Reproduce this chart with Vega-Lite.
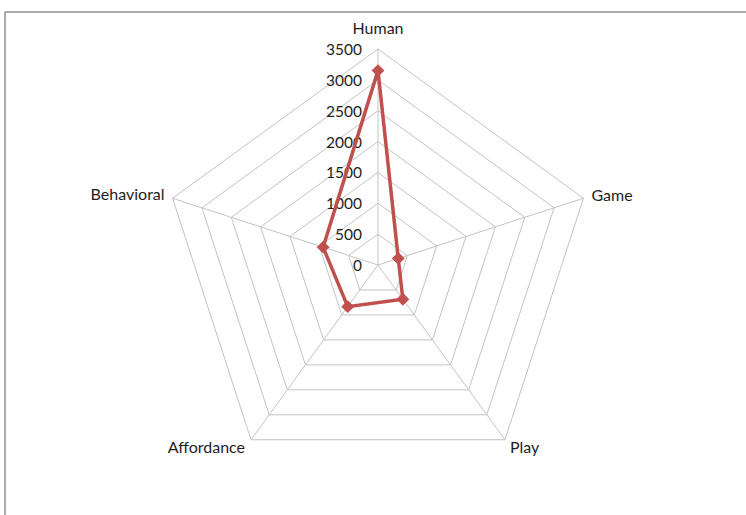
{
  "$schema": "https://vega.github.io/schema/vega-lite/v6.json",
  "width": 741,
  "height": 503,
  "autosize": "none",
  "padding": {"left": 5, "top": 12, "right": 0, "bottom": 0},
  "background": "white",
  "config": {
    "view": {"stroke": null},
    "text": {"font": "Lato", "fontSize": 15, "fill": "#1e1e1e", "baseline": "alphabetic"}
  },
  "datasets": {
    "scores": [
      {"category": "Human", "k": 0, "value": 3150},
      {"category": "Game", "k": 1, "value": 345},
      {"category": "Play", "k": 2, "value": 685},
      {"category": "Affordance", "k": 3, "value": 835},
      {"category": "Behavioral", "k": 4, "value": 935}
    ],
    "rings": [
      {"level": 500, "k": [0, 1, 2, 3, 4]},
      {"level": 1000, "k": [0, 1, 2, 3, 4]},
      {"level": 1500, "k": [0, 1, 2, 3, 4]},
      {"level": 2000, "k": [0, 1, 2, 3, 4]},
      {"level": 2500, "k": [0, 1, 2, 3, 4]},
      {"level": 3000, "k": [0, 1, 2, 3, 4]},
      {"level": 3500, "k": [0, 1, 2, 3, 4]}
    ],
    "ticks": [
      {"level": 0}, {"level": 500}, {"level": 1000}, {"level": 1500},
      {"level": 2000}, {"level": 2500}, {"level": 3000}, {"level": 3500}
    ],
    "border": [{"side": "top"}, {"side": "left"}]
  },
  "encoding": {
    "x": {"field": "x", "type": "quantitative", "axis": null, "scale": {"domain": [-6044, 5963], "nice": false, "zero": false}},
    "y": {"field": "y", "type": "quantitative", "axis": null, "scale": {"domain": [-4051, 4100], "nice": false, "zero": false}}
  },
  "layer": [
    {
      "data": {"name": "border"},
      "transform": [
        {"calculate": "-6044", "as": "x"},
        {"calculate": "datum.side === 'top' ? 5963 : -6044", "as": "x2"},
        {"calculate": "4100", "as": "y"},
        {"calculate": "datum.side === 'top' ? 4100 : -4051", "as": "y2"}
      ],
      "mark": {"type": "rule", "stroke": "#acacac", "strokeWidth": 2},
      "encoding": {
        "x2": {"field": "x2"},
        "y2": {"field": "y2"}
      }
    },
    {
      "data": {"name": "rings"},
      "transform": [
        {"flatten": ["k"]},
        {"calculate": "datum.level * sin(datum.k * 2 * PI / 5)", "as": "x"},
        {"calculate": "datum.level * cos(datum.k * 2 * PI / 5)", "as": "y"}
      ],
      "mark": {"type": "line", "interpolate": "linear-closed", "stroke": "#c3c3c3", "strokeWidth": 1},
      "encoding": {
        "detail": {"field": "level", "type": "nominal"},
        "order": {"field": "k", "type": "quantitative"}
      }
    },
    {
      "data": {"name": "scores"},
      "transform": [
        {"calculate": "3500 * sin(datum.k * 2 * PI / 5)", "as": "x"},
        {"calculate": "3500 * cos(datum.k * 2 * PI / 5)", "as": "y"}
      ],
      "mark": {"type": "rule", "stroke": "#c3c3c3", "strokeWidth": 1},
      "encoding": {
        "x2": {"datum": 0},
        "y2": {"datum": 0}
      }
    },
    {
      "data": {"name": "ticks"},
      "transform": [
        {"calculate": "0", "as": "x"},
        {"calculate": "datum.level", "as": "y"}
      ],
      "mark": {"type": "text", "align": "right", "dx": -16, "dy": 6, "fontSize": 15.5},
      "encoding": {"text": {"field": "level", "type": "nominal"}}
    },
    {
      "data": {"name": "scores"},
      "transform": [
        {"calculate": "datum.value * sin(datum.k * 2 * PI / 5)", "as": "x"},
        {"calculate": "datum.value * cos(datum.k * 2 * PI / 5)", "as": "y"}
      ],
      "mark": {"type": "line", "interpolate": "linear-closed", "stroke": "#C0504D", "strokeWidth": 3.5},
      "encoding": {"order": {"field": "k", "type": "quantitative"}}
    },
    {
      "data": {"name": "scores"},
      "transform": [
        {"calculate": "datum.value * sin(datum.k * 2 * PI / 5)", "as": "x"},
        {"calculate": "datum.value * cos(datum.k * 2 * PI / 5)", "as": "y"}
      ],
      "mark": {"type": "point", "shape": "diamond", "filled": true, "size": 165, "fill": "#C0504D", "opacity": 1}
    },
    {
      "data": {"name": "scores"},
      "transform": [
        {"filter": "datum.category === 'Human'"},
        {"calculate": "3500 * sin(datum.k * 2 * PI / 5)", "as": "x"},
        {"calculate": "3500 * cos(datum.k * 2 * PI / 5)", "as": "y"}
      ],
      "mark": {"type": "text", "align": "center", "dy": -15, "fontSize": 16},
      "encoding": {"text": {"field": "category", "type": "nominal"}}
    },
    {
      "data": {"name": "scores"},
      "transform": [
        {"filter": "datum.category === 'Game'"},
        {"calculate": "3500 * sin(datum.k * 2 * PI / 5)", "as": "x"},
        {"calculate": "3500 * cos(datum.k * 2 * PI / 5)", "as": "y"}
      ],
      "mark": {"type": "text", "align": "left", "dx": 8, "dy": 3, "fontSize": 16},
      "encoding": {"text": {"field": "category", "type": "nominal"}}
    },
    {
      "data": {"name": "scores"},
      "transform": [
        {"filter": "datum.category === 'Play'"},
        {"calculate": "3500 * sin(datum.k * 2 * PI / 5)", "as": "x"},
        {"calculate": "3500 * cos(datum.k * 2 * PI / 5)", "as": "y"}
      ],
      "mark": {"type": "text", "align": "left", "dx": 5, "dy": 13, "fontSize": 16},
      "encoding": {"text": {"field": "category", "type": "nominal"}}
    },
    {
      "data": {"name": "scores"},
      "transform": [
        {"filter": "datum.category === 'Affordance'"},
        {"calculate": "3500 * sin(datum.k * 2 * PI / 5)", "as": "x"},
        {"calculate": "3500 * cos(datum.k * 2 * PI / 5)", "as": "y"}
      ],
      "mark": {"type": "text", "align": "right", "dx": -6, "dy": 13, "fontSize": 16},
      "encoding": {"text": {"field": "category", "type": "nominal"}}
    },
    {
      "data": {"name": "scores"},
      "transform": [
        {"filter": "datum.category === 'Behavioral'"},
        {"calculate": "3500 * sin(datum.k * 2 * PI / 5)", "as": "x"},
        {"calculate": "3500 * cos(datum.k * 2 * PI / 5)", "as": "y"}
      ],
      "mark": {"type": "text", "align": "right", "dx": -8, "dy": 2, "fontSize": 16},
      "encoding": {"text": {"field": "category", "type": "nominal"}}
    }
  ]
}
